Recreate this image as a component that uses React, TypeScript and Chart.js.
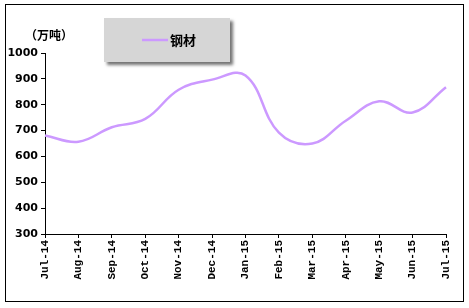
import React, { useEffect, useRef } from "react";
import { Chart, registerables } from "chart.js";

Chart.register(...registerables);

const categories = ["Jul-14", "Aug-14", "Sep-14", "Oct-14", "Nov-14", "Dec-14", "Jan-15", "Feb-15", "Mar-15", "Apr-15", "May-15", "Jun-15", "Jul-15"];
const steelValues = [681, 657, 713, 745, 858, 897, 913, 692, 650, 738, 813, 770, 868];
const seriesName = "钢材";
const unitLabel = "（万吨）";
const yMin = 300;
const yMax = 1000;
const yStep = 100;

const LINE_COLOR = "#CC99FF";

const decorPlugin = {
  id: "decor",
  beforeDraw(chart: any) {
    const ctx = chart.ctx;
    ctx.save();
    ctx.fillStyle = "#ffffff";
    ctx.fillRect(0, 0, chart.width, chart.height);
    ctx.strokeStyle = "#000000";
    ctx.lineWidth = 1;
    ctx.strokeRect(5.5, 4.5, 458, 297);
    ctx.restore();
  },
  afterDraw(chart: any) {
    const ctx = chart.ctx;
    ctx.save();
    // legend box with shadow
    ctx.shadowColor = "rgba(0,0,0,0.55)";
    ctx.shadowBlur = 3;
    ctx.shadowOffsetX = 3;
    ctx.shadowOffsetY = 3;
    ctx.fillStyle = "#d6d6d6";
    ctx.fillRect(104, 18, 126, 44);
    ctx.shadowColor = "rgba(0,0,0,0)";
    ctx.shadowBlur = 0;
    ctx.shadowOffsetX = 0;
    ctx.shadowOffsetY = 0;
    const ds = chart.data.datasets[0];
    ctx.strokeStyle = ds.borderColor;
    ctx.lineWidth = 2.5;
    ctx.beginPath();
    ctx.moveTo(142, 40);
    ctx.lineTo(168, 40);
    ctx.stroke();
    ctx.fillStyle = "#000000";
    ctx.font = "bold 13px 'Noto Sans CJK SC'";
    ctx.textBaseline = "middle";
    ctx.textAlign = "left";
    ctx.fillText(ds.label, 170, 40);
    // unit label
    ctx.font = "bold 12px 'Noto Sans CJK SC'";
    ctx.fillText(unitLabel, 25, 35);
    ctx.restore();
  },
};

export default function App() {
  const ref = useRef<HTMLCanvasElement | null>(null);
  useEffect(() => {
    if (!ref.current) return;
    const chart = new Chart(ref.current, {
      type: "line",
      data: {
        labels: categories,
        datasets: [
          {
            label: seriesName,
            data: steelValues,
            borderColor: LINE_COLOR,
            backgroundColor: LINE_COLOR,
            borderWidth: 2.5,
            pointRadius: 0,
            tension: 0.4,
            fill: false,
          },
        ],
      },
      options: {
        animation: false,
        responsive: false,
        maintainAspectRatio: false,
        layout: { padding: { left: 0, right: 23, top: 53, bottom: 0 } },
        plugins: {
          legend: { display: false },
          tooltip: { enabled: false },
          title: { display: false },
        },
        scales: {
          x: {
            offset: false,
            grid: { display: true, drawOnChartArea: false, drawTicks: true, tickLength: 4, color: "#000000" },
            border: { display: true, color: "#000000", width: 1 },
            ticks: {
              autoSkip: false,
              minRotation: 90,
              maxRotation: 90,
              padding: 2,
              color: "#000000",
              font: { family: "'Liberation Mono'", size: 11, weight: "bold" },
            },
            afterFit(scale: any) {
              scale.height = 74;
            },
          },
          y: {
            min: yMin,
            max: yMax,
            grid: { display: true, drawOnChartArea: false, drawTicks: true, tickLength: 4, color: "#000000" },
            border: { display: true, color: "#000000", width: 1 },
            ticks: {
              stepSize: yStep,
              padding: 3,
              color: "#000000",
              font: { family: "'DejaVu Sans'", size: 11, weight: "bold" },
              callback: (v: any) => String(v),
            },
            afterFit(scale: any) {
              scale.width = 45;
            },
          },
        },
      },
      plugins: [decorPlugin],
    });
    return () => chart.destroy();
  }, []);
  return (
    <div style={{ position: "fixed", left: 0, top: 0, width: 469, height: 308 }}>
      <canvas ref={ref} width={469} height={308} style={{ width: 469, height: 308, display: "block" }} />
    </div>
  );
}
